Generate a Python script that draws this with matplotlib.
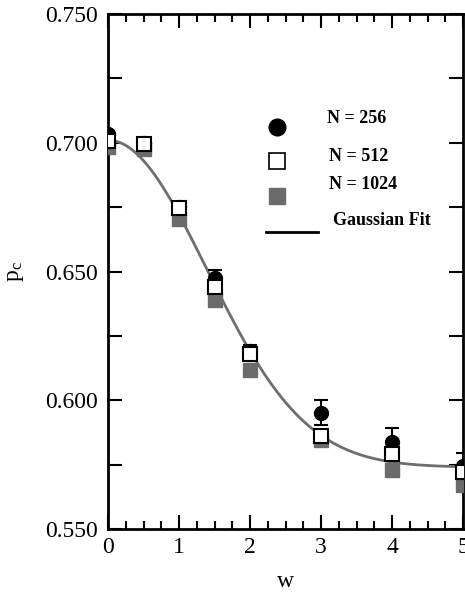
import numpy as np
import matplotlib
matplotlib.use('Agg')
import matplotlib.pyplot as plt
from matplotlib.ticker import MultipleLocator, FormatStrFormatter

# Data
w = [0, 0.5, 1, 1.5, 2, 3, 4, 5]
pc_256 = [0.7035, 0.7000, 0.6750, 0.6476, 0.6190, 0.5952, 0.5839, 0.5745]
err_256 = [0.0010, 0.0010, 0.0010, 0.0028, 0.0025, 0.0050, 0.0053, 0.0050]
pc_512 = [0.7008, 0.6994, 0.6747, 0.6441, 0.6180, 0.5861, 0.5791, 0.5723]
pc_1024 = [0.6985, 0.6975, 0.6705, 0.6389, 0.6117, 0.5845, 0.5729, 0.5671]

# Gaussian fit parameters: p = base + amp * exp(-w^2 / (2 sigma^2))
fit_base = 0.574
fit_amp = 0.127
fit_sigma = 1.39

plt.rcParams['font.family'] = ['Liberation Serif', 'DejaVu Serif']
plt.rcParams['mathtext.fontset'] = 'stix'

fig = plt.figure(figsize=(4.65, 5.93), dpi=100)
ax = fig.add_axes([0.2323, 0.1079, 0.7634, 0.8685])

wf = np.linspace(0, 5, 300)
ax.plot(wf, fit_base + fit_amp * np.exp(-wf**2 / (2 * fit_sigma**2)),
        color='#6e6e6e', lw=2, zorder=2)

ax.plot(w, pc_1024, 's', ms=9.5, color='#6b6b6b', mec='#6b6b6b', zorder=3)
ax.errorbar(w, pc_256, yerr=err_256, fmt='o', ms=10, color='black',
            ecolor='black', elinewidth=1.5, capsize=5, capthick=1.5, zorder=4)
ax.plot(w, pc_512, 's', ms=9.5, mfc='white', mec='black', mew=1.5, zorder=5)

ax.set_xlim(0, 5)
ax.set_ylim(0.55, 0.75)
ax.xaxis.set_major_locator(MultipleLocator(1))
ax.xaxis.set_minor_locator(MultipleLocator(0.25))
ax.yaxis.set_major_locator(MultipleLocator(0.05))
ax.yaxis.set_minor_locator(MultipleLocator(0.025))
ax.yaxis.set_major_formatter(FormatStrFormatter('%.3f'))
ax.tick_params(which='both', direction='in', top=True, right=True, width=1.5,
               labelsize=17)
ax.tick_params(axis='x', which='major', length=10, pad=6)
ax.tick_params(axis='x', which='minor', length=6)
ax.tick_params(axis='y', which='both', length=10, pad=7)
for s in ax.spines.values():
    s.set_linewidth(2)

ax.set_xlabel('w', fontsize=17, labelpad=9)
ax.set_ylabel(r'$\mathregular{p_c}$', fontsize=17, labelpad=14)

# Hand-drawn style legend
leg_x = 2.376
ax.plot([leg_x], [0.7062], 'o', ms=12, color='black')
ax.text(3.08, 0.7094, 'N = 256', fontsize=13, fontweight='bold', va='center')
ax.plot([leg_x], [0.6929], 's', ms=11, mfc='white', mec='black', mew=1.2)
ax.text(3.11, 0.6946, 'N = 512', fontsize=13, fontweight='bold', va='center')
ax.plot([leg_x], [0.6793], 's', ms=11, color='#6b6b6b')
ax.text(3.11, 0.6836, 'N = 1024', fontsize=13, fontweight='bold', va='center')
ax.plot([2.225, 2.958], [0.6653, 0.6653], color='black', lw=2)
ax.text(3.17, 0.6700, 'Gaussian Fit', fontsize=13, fontweight='bold', va='center')

fig.savefig('out.png', dpi=100)
